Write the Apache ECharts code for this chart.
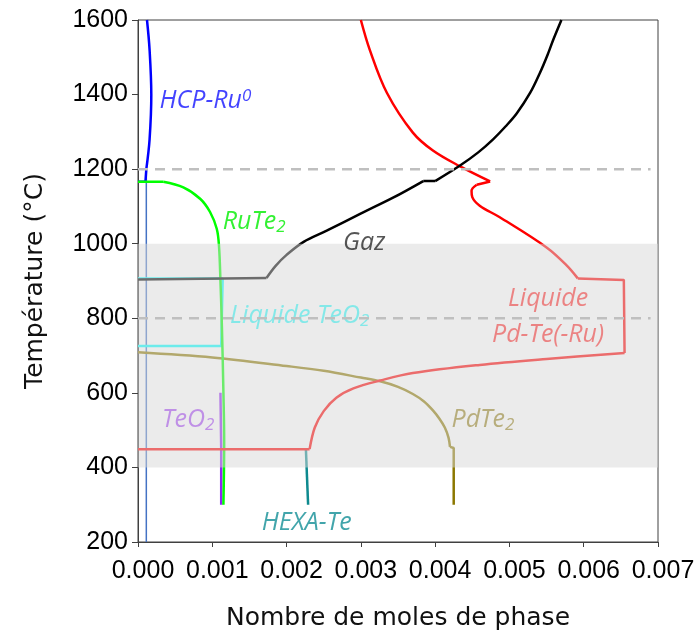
<!DOCTYPE html>
<html><head><meta charset="utf-8">
<script src="https://cdn.jsdelivr.net/npm/echarts@6/dist/echarts.min.js"></script>
<style>html,body{margin:0;padding:0;background:#fff}#c{width:700px;height:636px}</style>
</head><body><div id="c"></div>
<script>
// ---- data (x = nombre de moles de phase, y = température °C) ----
const xMin = 0, xMax = 0.007, xStep = 0.001;
const yMin = 200, yMax = 1600, yStep = 200;
const bandRange = [400, 1000];
const refTemps = [1200, 800];
const refLineEnd = 0.0069;

// HCP-Ru0
const hcpRuCurve = [[0.000121,1600],[0.000156,1520],[0.000179,1400],[0.000156,1280],[0.000112,1200]];
const hcpRuStep = [[0.000112,1200],[0.000100,1166],[0,1166]];
const refVertical = [[0.000112,200],[0.000112,1195]];
// RuTe2
const ruTe2Flat = [[0,1166],[0.00034,1166]];
const ruTe2Curve = [[0.00034,1166],[0.00061,1151],[0.00084,1120],[0.00097,1085],[0.00106,1040],[0.00109,995],[0.00111,900],[0.00113,773],[0.00115,600],[0.00116,470],[0.00115,300]];
// Gaz
const gazFlat = [[0,904],[0.00173,908]];
const gazLow = [[0.00173,908],[0.00185,940],[0.002,970],[0.00223,1005],[0.00254,1035],[0.00299,1080],[0.00344,1124],[0.00384,1168]];
const gazStep = [[0.00384,1168],[0.004,1168]];
const gazHigh = [[0.004,1168],[0.00433,1209],[0.00458,1245],[0.00478,1280],[0.00495,1315],[0.0051,1350],[0.00528,1405],[0.00541,1458],[0.00551,1505],[0.00559,1547],[0.0057,1600]];
// Liquide TeO2
const liquideTeO2 = [[0,907],[0.00114,907],[0.00112,726],[0,726]];
// PdTe2
const pdTe2Curve = [[0,709],[0.001,695],[0.002,672],[0.0025,659],[0.003,641],[0.00326,631],[0.0035,616],[0.0037,597],[0.00385,577],[0.00397,553],[0.00406,530],[0.00413,507],[0.00418,480],[0.0042,455]];
const pdTe2Step = [[0.0042,455],[0.00425,452],[0.00425,300]];
// Liquide Pd-Te(-Ru)
const liqTop = [[0.003,1600],[0.00312,1520],[0.00335,1405],[0.0037,1298],[0.00397,1250],[0.00433,1208],[0.00474,1167]];
const liqBump = [[0.00474,1167],[0.00456,1158]];
const liqMid = [[0.00456,1158],[0.00449,1142],[0.0045,1125],[0.0046,1102],[0.00487,1071],[0.0055,990],[0.00577,942],[0.00592,907]];
const liqBox = [[0.00592,907],[0.00654,903],[0.00655,707]];
const liqLow = [[0.00655,707],[0.0055,691],[0.0046,675],[0.0037,653],[0.00326,633],[0.0029,612],[0.00267,587],[0.0025,551],[0.00238,507],[0.00231,449]];
const liqFlat = [[0.00231,449],[0,449]];
// TeO2, HEXA-Te
const teO2 = [[0.00111,600],[0.00112,450],[0.00112,300]];
const hexaTe = [[0.00226,450],[0.00229,300]];

// ---- annotation texts ----
const annotations = [
  {text:'{m|HCP-Ru}{sup|0}', at:[0.00029,1382], color:'#1414ff'},
  {text:'{m|RuTe}{sub|2}', at:[0.00114,1058], color:'#00ee00'},
  {text:'{m|Gaz}', at:[0.00276,1003], color:'#2b2b2b'},
  {text:'{m|Liquide TeO}{sub|2}', at:[0.00124,807], color:'#6be8e8'},
  {text:'{m|TeO}{sub|2}', at:[0.000323,527], color:'#b57be6'},
  {text:'{m|PdTe}{sub|2}', at:[0.00422,527], color:'#ab9f62'},
  {text:'{m|HEXA-Te}', at:[0.001667,251], color:'#138f96'}
];
const centerAnnotations = [
  {text:'Liquide\nPd-Te(-Ru)', at:[0.00552,805], color:'#ec6a6a'}
];

const chart = echarts.init(document.getElementById('c'), null, {renderer:'canvas'});
const italic = {fontFamily:'Open Sans', fontStyle:'italic'};
function line(name, data, color, width, smooth) {
  return {name, type:'line', data, showSymbol:false, symbol:'none', z:2,
    smooth: smooth || false,
    lineStyle:{color, width: width || 2.5}, itemStyle:{color}, animation:false, silent:true};
}
const S = 0.35;
const series = [
  line('ref', refVertical, '#4472c4', 1.5),
  line('HCP-Ru', hcpRuCurve, '#0000ff', 2.5, S),
  line('HCP-Ru', hcpRuStep, '#0000ff', 2.5),
  line('Liquide TeO2', liquideTeO2, '#00ffff', 2.5),
  line('PdTe2', pdTe2Curve, '#8c7800', 2.5, S),
  line('PdTe2', pdTe2Step, '#8c7800', 2.5),
  line('HEXA-Te', hexaTe, '#0e8a8f', 2.5),
  line('TeO2', teO2, '#9322f5', 2.5),
  line('RuTe2', ruTe2Flat, '#00ff00', 2.5),
  line('RuTe2', ruTe2Curve, '#00ff00', 2.5, S),
  line('Liquide', liqTop, '#ff0000', 2.5, S),
  line('Liquide', liqBump, '#ff0000', 2.5),
  line('Liquide', liqMid, '#ff0000', 2.5, S),
  line('Liquide', liqBox, '#ff0000', 2.5),
  line('Liquide', liqLow, '#ff0000', 2.5, S),
  line('Liquide', liqFlat, '#ff0000', 2.5),
  line('Gaz', gazFlat, '#000000', 2.5),
  line('Gaz', gazLow, '#000000', 2.5, S),
  line('Gaz', gazStep, '#000000', 2.5),
  line('Gaz', gazHigh, '#000000', 2.5, S),
  {type:'custom', name:'band', z:3, silent:true, animation:false,
    data:[[xMin, bandRange[0], xMax, bandRange[1]]],
    renderItem:function(params, api){
      const p1 = api.coord([api.value(0), api.value(1)]);
      const p2 = api.coord([api.value(2), api.value(3)]);
      return {type:'rect', shape:{x:p1[0], y:p2[1], width:p2[0]-p1[0], height:p1[1]-p2[1]},
        style:{fill:'rgba(215,215,215,0.5)'}};
    }},
  {type:'scatter', name:'labels', z:4, symbolSize:0, animation:false, silent:true,
    data: annotations.map(a => ({value:a.at, label:{show:true, position:'right', distance:0,
      formatter:a.text, rich:{
        m:Object.assign({fontSize:25, color:a.color, lineHeight:28}, italic),
        sub:Object.assign({fontSize:17, color:a.color, lineHeight:15, verticalAlign:'bottom'}, italic),
        sup:Object.assign({fontSize:17, color:a.color, lineHeight:15, verticalAlign:'top'}, italic)
      }}}))
  },
  {type:'scatter', name:'labels2', z:4, symbolSize:0, animation:false, silent:true,
    data: centerAnnotations.map(a => ({value:a.at, label:Object.assign({show:true, position:'inside',
      formatter:a.text, fontSize:25, color:a.color, lineHeight:36, align:'center'}, italic)}))
  }
];
refTemps.forEach(t => series.push({type:'line', name:'ref'+t, z:5, data:[[xMin,t],[refLineEnd,t]],
  showSymbol:false, symbol:'none', animation:false, silent:true,
  lineStyle:{color:'#bfbfbf', width:2.5, type:[10,7]}}));

chart.setOption({
  animation:false,
  grid:{left:138, right:42, top:20, bottom:91, show:true, borderColor:'#404040', borderWidth:1, backgroundColor:'transparent'},
  xAxis:{type:'value', min:xMin, max:xMax, interval:xStep,
    axisLine:{show:true, lineStyle:{color:'#404040', width:1}},
    axisTick:{show:true, length:5, lineStyle:{color:'#404040'}},
    splitLine:{show:false},
    axisLabel:{formatter:v => v.toFixed(3), fontSize:25, color:'#000', fontFamily:'Liberation Sans', margin:17, padding:[0,0,0,10]},
    name:'Nombre de moles de phase', nameLocation:'middle', nameGap:64,
    nameTextStyle:{fontSize:25, color:'#111', fontFamily:'DejaVu Sans'}},
  yAxis:{type:'value', min:yMin, max:yMax, interval:yStep,
    axisLine:{show:true, lineStyle:{color:'#404040', width:1}},
    axisTick:{show:true, length:6, lineStyle:{color:'#404040'}},
    splitLine:{show:false},
    axisLabel:{formatter:v => String(v), fontSize:25, color:'#000', fontFamily:'Liberation Sans', margin:10},
    name:'Température (°C)', nameLocation:'middle', nameGap:90,
    nameTextStyle:{fontSize:25, color:'#111', fontFamily:'DejaVu Sans'}},
  series
});
</script></body></html>
